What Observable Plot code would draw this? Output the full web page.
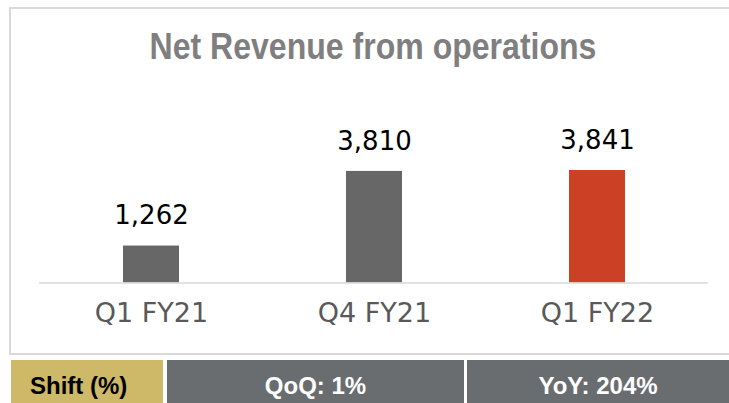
<!DOCTYPE html>
<html>
<head>
<meta charset="utf-8">
<script src="https://cdn.jsdelivr.net/npm/d3@7"></script>
<script src="https://cdn.jsdelivr.net/npm/@observablehq/plot@0.6"></script>
<style>
  html, body { margin: 0; padding: 0; background: #fff; overflow: hidden; }
  #wrap { position: relative; width: 729px; height: 403px; overflow: hidden; font-family: "Liberation Sans", Arial, sans-serif; }
  #box { position: absolute; left: 9px; top: 7px; width: 780px; height: 348px; box-sizing: border-box; border: 2px solid #d9d9d9; }
  #title { position: absolute; left: 9px; width: 728px; top: 28px; text-align: center; font-size: 36px; line-height: 38px; font-weight: bold; color: #7f7f7f; white-space: nowrap; transform: scaleX(0.89); transform-origin: 364px 0; }
  #chart { position: absolute; left: 0; top: 100px; }
  .cell { position: absolute; top: 360px; height: 43px; box-sizing: border-box; padding-top: 8px; line-height: 35px; font-size: 24px; font-weight: bold; white-space: nowrap; }
</style>
</head>
<body>
<div id="wrap">
  <div id="box"></div>
  <div id="title"></div>
  <div id="chart"></div>
  <div id="shift"></div>
</div>
<script>
const title = "Net Revenue from operations";
const categories = ["Q1 FY21", "Q4 FY21", "Q1 FY22"];
const values = [1262, 3810, 3841];
const barColors = ["#676767", "#676767", "#cc4125"];
const shiftLabels = ["Shift (%)", "QoQ: 1%", "YoY: 204%"];

document.getElementById("title").textContent = title;

const data = categories.map((c, i) => ({cat: c, value: values[i], color: barColors[i]}));
const fmt = d3.format(",");

const chart = Plot.plot({
  width: 729,
  height: 250,
  marginLeft: 39,
  marginRight: 21,
  marginTop: 70,
  marginBottom: 67.5,
  style: {fontFamily: "DejaVu Sans, sans-serif", background: "transparent", overflow: "visible"},
  x: {domain: categories, paddingInner: 0.75, paddingOuter: 0.375, axis: null},
  y: {domain: [0, 3841], axis: null},
  color: {type: "identity"},
  marks: [
    Plot.barY(data, {x: "cat", y: "value", fill: "color"}),
    Plot.ruleY([0], {stroke: "#d9d9d9", strokeWidth: 1.5}),
    Plot.text(data, {x: "cat", y: "value", text: d => fmt(d.value), dy: -30, fontSize: 26, fill: "#000"}),
    Plot.text(data, {x: "cat", text: "cat", frameAnchor: "bottom", dy: 39, fontSize: 27, fill: "#595959"})
  ]
});
document.getElementById("chart").appendChild(chart);

const cells = [
  {left: 11, width: 152, bg: "#cdb968", color: "#000", align: "left", pad: 19},
  {left: 167, width: 297, bg: "#6a6d70", color: "#fff", align: "center", pad: 0},
  {left: 467, width: 262, bg: "#6a6d70", color: "#fff", align: "center", pad: 0}
];
const shift = document.getElementById("shift");
cells.forEach((c, i) => {
  const d = document.createElement("div");
  d.className = "cell";
  d.style.left = c.left + "px";
  d.style.width = c.width + "px";
  d.style.background = c.bg;
  d.style.color = c.color;
  d.style.textAlign = c.align;
  d.style.paddingLeft = c.pad + "px";
  d.textContent = shiftLabels[i];
  shift.appendChild(d);
});
</script>
</body>
</html>
